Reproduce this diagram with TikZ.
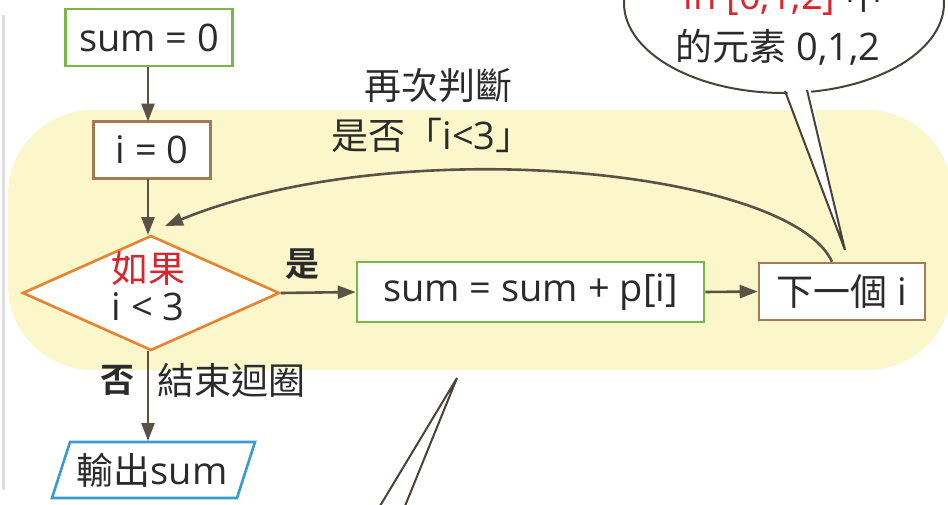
\documentclass[tikz,border=0pt]{standalone}
\usepackage{fontspec}
\setmainfont{Open Sans}
\newfontfamily\cjk{Noto Sans CJK TC}[BoldFont={Noto Sans CJK TC Bold}]
\usetikzlibrary{arrows.meta,shapes.geometric}
\definecolor{bgyellow}{HTML}{FBF7CB}
\definecolor{boxgreen}{HTML}{7AB648}
\definecolor{boxbrown}{HTML}{A27B55}
\definecolor{dorange}{HTML}{E8822E}
\definecolor{oblue}{HTML}{3A9BD0}
\definecolor{arrgray}{HTML}{5B5247}
\definecolor{txtred}{HTML}{D7262E}
\definecolor{txt}{HTML}{2B2B2B}
\newcommand{\cj}[1]{{\fontsize{37}{42}\selectfont\cjk #1}}
\begin{document}
\begin{tikzpicture}[x=1pt,y=-1pt,
  every node/.style={text=txt},
  big/.style={font=\fontsize{38}{42}\selectfont},
  greenbox/.style={draw=boxgreen, line width=2.6pt, fill=white, inner sep=0pt, big},
  brownbox/.style={draw=boxbrown, line width=2.6pt, fill=white, inner sep=0pt, big},
  arr/.style={draw=arrgray, line width=2.6pt, -{Triangle[length=18pt,width=13pt]}},
  bub/.style={draw=arrgray!80!black, line width=2pt}]
\useasboundingbox (0,0) rectangle (948,504);
\draw[black!12, line width=3pt] (3,15) -- (3,490);
\fill[bgyellow, rounded corners=85pt] (8,110) rectangle (952,370);

% nodes
\node[greenbox, minimum width=167pt, minimum height=57pt] (sum0) at (149,37.5) {sum = 0};
\node[brownbox, minimum width=117pt, minimum height=57pt] (i0) at (152,150) {i = 0};
\node[diamond, draw=dorange, line width=2.6pt, fill=white, inner sep=0pt,
      minimum width=257pt, minimum height=115pt, aspect=2.23] (dec) at (151,293) {};
\node[big, text=txtred] (ruguo) at (148,269) {\cj{如果}};
\node[big] (ilt) at (148,307) {i < 3};
\node[greenbox, minimum width=347pt, minimum height=60pt] (acc) at (530.5,292) {sum = sum + p[i]};
\node[brownbox, minimum width=166pt, minimum height=57pt] (xia) at (842,291.5) {\cj{下一個} i};
\fill[white] (70,442) -- (255,442) -- (237,498) -- (52,498) -- cycle;
\draw[oblue, line width=2.6pt, line join=miter] (70,442) -- (255,442) -- (237,498) -- (52,498) -- cycle;
\node[big] (out) at (152,470) {\cj{輸出}sum};

% labels
\node[big] (zai) at (438,86) {\cj{再次判斷}};
\node[big] (shifou) at (432,135) {\cj{是否「}i<3\cj{」}};
\node[font=\fontsize{34}{36}\selectfont\cjk\bfseries] (shi) at (302,264) {是};
\node[font=\fontsize{34}{36}\selectfont\cjk\bfseries] (fou) at (117,380) {否};
\node[big] (jieshu) at (231,380) {\cj{結束迴圈}};

% connectors
\draw[arr] (148,67) -- (148,121.5);
\draw[arr] (148,178.5) -- (148,235);
\draw[arr] (dec.east) -- (acc.west);
\draw[arr] (acc.east) -- (xia.west);
\draw[arr] (148,350.5) -- (148,441);
\coordinate (loopstart) at ([xshift=-10pt]xia.north);
\coordinate (loopend) at (165,226);
\draw[arr] (loopstart) .. controls (790,170) and (400,130) .. (loopend);

% speech bubble top right
\node[ellipse, bub, fill=white, minimum width=320pt, minimum height=180pt, inner sep=0pt] (bubble) at (784,3) {};
\coordinate (tip) at (845,250);
\fill[white] (784,83) -- (tip) -- (809,82) -- cycle;
\draw[bub, line join=miter] (785,91) -- (tip) -- (807,90);
\node[big, anchor=base] (bl1) at (783,9) {\textcolor{txtred}{in [0,1,2]} \cj{中}};
\node[big, anchor=base] (bl2) at (778,60) {\cj{的元素} 0,1,2};

% lower bubble tail
\coordinate (tip2) at (457,378);
\fill[white] (380,504) -- (tip2) -- (405,504) -- cycle;
\draw[bub] (380,506) -- (tip2) -- (405,506);
\end{tikzpicture}
\end{document}
